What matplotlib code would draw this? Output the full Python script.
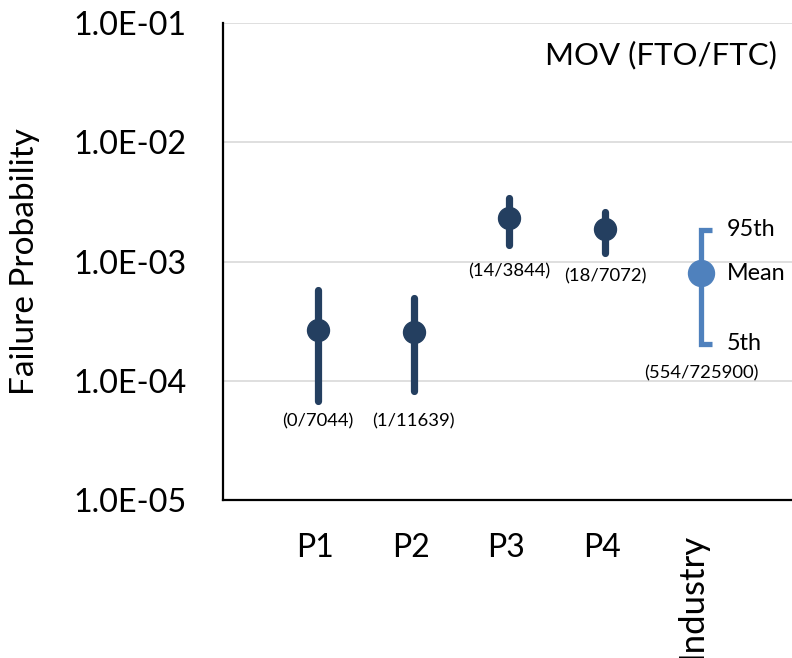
import matplotlib
matplotlib.use("Agg")
import matplotlib.pyplot as plt
import matplotlib.transforms as mtransforms
import numpy as np

plt.rcParams['font.family'] = ['Lato', 'DejaVu Sans']

categories = ["P1", "P2", "P3", "P4", "Industry"]
means = [2.67e-4, 2.59e-4, 2.31e-3, 1.87e-3, 7.99e-4]
upper = [5.73e-4, 4.98e-4, 3.39e-3, 2.59e-3, 1.85e-3]
lower = [6.72e-5, 8.26e-5, 1.39e-3, 1.18e-3, 2.04e-4]
counts = ["(0/7044)", "(1/11639)", "(14/3844)", "(18/7072)", "(554/725900)"]
count_y = [4.55e-5, 4.55e-5, 8.24e-4, 7.49e-4, 1.16e-4]
yticks = [1e-5, 1e-4, 1e-3, 1e-2, 1e-1]
ytick_labels = ["1.0E-05", "1.0E-04", "1.0E-03", "1.0E-02", "1.0E-01"]
pct_labels = ["95th", "Mean", "5th"]

dark = "#243F60"
light = "#4F81BD"

fig = plt.figure(figsize=(7.92, 6.58), dpi=100)
ax = fig.add_axes([223/792, 1-500/658, 1-223/792, (500-23.3)/658])
ax.set_yscale('log')
ax.set_ylim(1e-5, 1e-1)
ax.set_xlim(-0.99, 4.95)

x = np.arange(len(categories))
# P-series
for i in range(4):
    ax.plot([x[i], x[i]], [lower[i], upper[i]], color=dark, lw=5.2,
            solid_capstyle='round', zorder=3)
    ax.plot(x[i], means[i], 'o', color=dark, ms=15.8, zorder=4)
# Industry bracket
i = 4
cap = 0.12
ax.plot([x[i] + cap, x[i], x[i], x[i] + cap], [upper[i], upper[i], lower[i], lower[i]],
        color=light, lw=3.8, solid_joinstyle='miter', solid_capstyle='butt', zorder=3)
ax.plot(x[i], means[i], 'o', color=light, ms=18.7, zorder=4)

for lab, val in zip(pct_labels, [upper[i], means[i], lower[i]]):
    ax.annotate(lab, (x[i], val), xytext=(26, 0), textcoords='offset pixels',
                ha='left', va='center', fontsize=16.8, color='black')

for xi, txt, yv in zip(x, counts, count_y):
    ax.text(xi, yv, txt, ha='center', va='center', fontsize=13.3, color='black')

ax.set_yticks(yticks)
ax.set_yticklabels(ytick_labels, fontsize=23.3)
ax.yaxis.set_minor_locator(matplotlib.ticker.NullLocator())
ax.set_xticks(x)
ax.set_xticklabels(categories, fontsize=23)
labels = ax.get_xticklabels()
labels[-1].set_rotation(90)
labels[-1].set_va('top')
labels[-1].set_fontsize(25)
ax.tick_params(axis='y', length=0, pad=26)
ax.tick_params(axis='x', length=0, pad=24)
for k, lab in enumerate(labels):
    dx = -0.09 if k == len(labels) - 1 else -0.03
    lab.set_transform(lab.get_transform() +
                      mtransforms.ScaledTranslation(dx, 0, fig.dpi_scale_trans))

ax.grid(axis='y', color='#D9D9D9', lw=1.2, zorder=0)
ax.set_axisbelow(True)
for s in ['top', 'right']:
    ax.spines[s].set_visible(False)
for s in ['left', 'bottom']:
    ax.spines[s].set_linewidth(1.6)
    ax.spines[s].set_color('black')

ax.set_ylabel("Failure Probability", fontsize=24)
ax.yaxis.set_label_coords((25 - 223) / (792 - 223), 0.5)
ax.yaxis.label.set_va('center')

fig.text(777/792, 1-55/658, "MOV (FTO/FTC)", ha='right', va='center', fontsize=22.4)

fig.savefig("out.png", dpi=100)
